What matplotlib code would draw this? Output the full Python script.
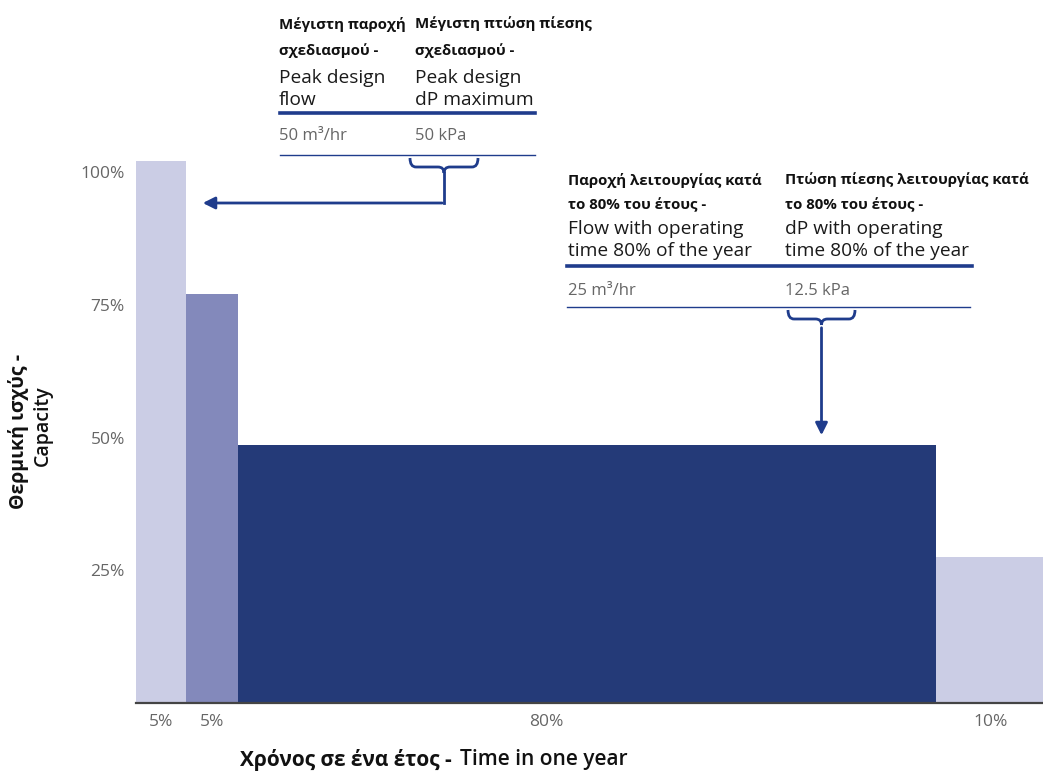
import numpy as np
import matplotlib
matplotlib.use('Agg')
import matplotlib.pyplot as plt
from matplotlib.path import Path
from matplotlib.patches import PathPatch

plt.rcParams['font.family'] = ['Open Sans', 'DejaVu Sans']

# data
capacity_pct = [102, 77, 48.5, 27.5]
time_labels = ['5%', '5%', '80%', '10%']
bar_widths = [5.0, 5.2, 69.8, 11.0]          # drawn widths (schematic, not to scale)
time_tick_pos = [2.5, 7.6, 41.0, 85.5]
y_ticks = [25, 50, 75, 100]
y_tick_labels = ['25%', '50%', '75%', '100%']

peak_cols = [('Μέγιστη παροχή', 'σχεδιασμού -', 'Peak design', 'flow', '50 m³/hr'),
             ('Μέγιστη πτώση πίεσης', 'σχεδιασμού -', 'Peak design', 'dP maximum', '50 kPa')]
oper_cols = [('Παροχή λειτουργίας κατά', 'το 80% του έτους -', 'Flow with operating',
              'time 80% of the year', '25 m³/hr'),
             ('Πτώση πίεσης λειτουργίας κατά', 'το 80% του έτους -', 'dP with operating',
              'time 80% of the year', '12.5 kPa')]

light = '#cbcde5'
mid = '#8389bb'
dark = '#243a78'
blue = '#1f3c8c'
bar_colors = [light, mid, dark, light]

W, H = 1043, 771
fig = plt.figure(figsize=(W / 100, H / 100), dpi=100)

ax = fig.add_axes([136 / W, 1 - 703 / H, (W - 136) / W, 703 / H])
lefts = np.concatenate([[0], np.cumsum(bar_widths)[:-1]])
ax.bar(lefts, capacity_pct, width=bar_widths, align='edge', color=bar_colors,
       edgecolor='none', linewidth=0)
ax.set_xlim(0, 90.7)
ax.set_ylim(0, 703 / 5.31)
ax.set_yticks(y_ticks)
ax.set_yticklabels(y_tick_labels)
ax.set_xticks(time_tick_pos)
ax.set_xticklabels(time_labels)
ax.tick_params(length=0, labelsize=12.5, labelcolor='#666666')
ax.tick_params(axis='y', pad=8)
ax.tick_params(axis='x', pad=8)
for s in ['top', 'right', 'left']:
    ax.spines[s].set_visible(False)
ax.spines['bottom'].set_color('#444444')
ax.spines['bottom'].set_linewidth(1.6)

# overlay in pixel coordinates for the annotations
ov = fig.add_axes([0, 0, 1, 1], facecolor='none')
ov.set_xlim(0, W)
ov.set_ylim(H, 0)
ov.axis('off')


def column(x, y0, texts, dy):
    g1, g2, e1, e2, val = texts
    ov.text(x, y0, g1, fontsize=10.8, fontweight='bold', va='center', ha='left', color='#111111')
    ov.text(x, y0 + dy[0], g2, fontsize=10.8, fontweight='bold', va='center', ha='left', color='#111111')
    ov.text(x, y0 + dy[1], e1, fontsize=13.8, va='center', ha='left', color='#1a1a1a')
    ov.text(x, y0 + dy[2], e2, fontsize=13.8, va='center', ha='left', color='#1a1a1a')
    ov.text(x, y0 + dy[3], val, fontsize=12, va='center', ha='left', color='#666666')


def brace(x0, x1, y):
    xm = (x0 + x1) / 2
    verts = [(x0, y - 3), (x0, y + 6), (x0 + 6, y + 6), (xm - 6, y + 6),
             (xm, y + 6), (xm, y + 12), (xm, y + 12),
             (xm, y + 6), (xm + 6, y + 6), (x1 - 6, y + 6), (x1, y + 6), (x1, y - 3)]
    codes = [Path.MOVETO, Path.CURVE3, Path.CURVE3, Path.LINETO,
             Path.CURVE3, Path.CURVE3, Path.MOVETO,
             Path.CURVE3, Path.CURVE3, Path.LINETO, Path.CURVE3, Path.CURVE3]
    ov.add_patch(PathPatch(Path(verts, codes), fill=False, edgecolor=blue, lw=2))
    return xm, y + 12


# peak design block
column(279, 24, peak_cols[0], (27, 54, 76, 112))
column(415, 24, peak_cols[1], (27, 54, 76, 112))
ov.plot([280, 535], [113, 113], color=blue, lw=2.6)
ov.plot([280, 535], [155, 155], color=blue, lw=1.0)
bx, by = brace(410, 478, 161)
ov.plot([bx, bx], [by, 203], color=blue, lw=2)
ov.annotate('', xy=(200, 203), xytext=(bx + 1, 203),
            arrowprops=dict(arrowstyle='-|>', color=blue, lw=2, mutation_scale=18))

# operating block
column(568, 180, oper_cols[0], (25, 49, 71, 111))
column(785, 180, oper_cols[1], (25, 49, 71, 111))
ov.plot([567, 972], [266, 266], color=blue, lw=2.6)
ov.plot([567, 970], [307, 307], color=blue, lw=1.0)
bx, by = brace(788, 855, 313)
ov.annotate('', xy=(bx, 438), xytext=(bx, by),
            arrowprops=dict(arrowstyle='-|>', color=blue, lw=2, mutation_scale=18))

# axis titles
ov.text(19, 431, 'Θερμική ισχύς -', rotation=90, fontsize=14, fontweight='bold',
        ha='center', va='center', color='#111111')
ov.text(43, 426, 'Capacity', rotation=90, fontsize=14, fontweight='semibold',
        ha='center', va='center', color='#111111')
xl = ov.text(240, 760, 'Χρόνος σε ένα έτος - ', fontsize=15, fontweight='bold',
             ha='left', va='center', color='#111111')
fig.canvas.draw()
bb = xl.get_window_extent()
ov.text(bb.x1 + 3, 760, 'Time in one year', fontsize=15, fontweight='semibold',
        ha='left', va='center', color='#111111')

fig.savefig('out.png', dpi=100)
